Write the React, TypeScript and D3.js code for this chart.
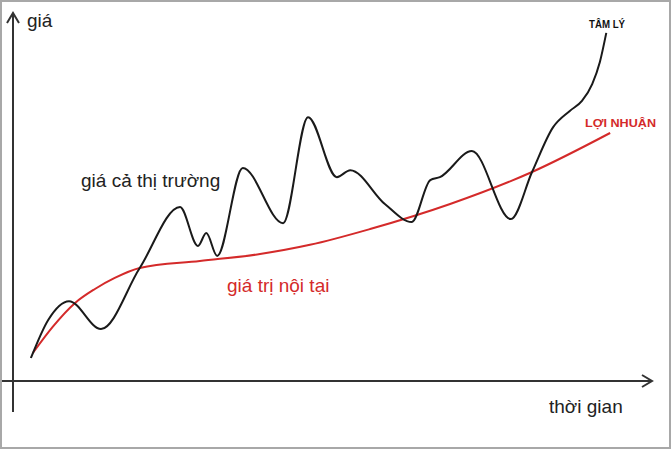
import React from "react";
import * as d3 from "d3";

// Abstract time (0-100) and price (0-100) values
const marketTime = [2.8, 5.5, 8.75, 13.75, 19.8, 26.1, 28.9, 30.2, 31.9, 35.9, 42.2, 46.1, 50.6, 52.7, 58.1, 62.3, 65.2, 66.7, 71.7, 77.8, 81.1, 84.4, 87.0, 88.9, 90.5, 91.7, 92.7];
const marketPrice = [6.25, 16.6, 21.7, 14.1, 30.7, 47.3, 36.7, 40.2, 34.0, 57.9, 42.9, 71.7, 55.4, 57.3, 48.1, 43.2, 54.6, 55.4, 62.5, 44.0, 56.8, 69.0, 73.4, 76.1, 80.7, 86.7, 94.6];

const valueTime = [3.1, 6.2, 9.7, 12.8, 15.9, 19.8, 29.2, 38.6, 46.4, 55.8, 68.3, 81.1, 93.3];
const valuePrice = [7.6, 14.7, 21.2, 25.0, 28.0, 30.7, 32.6, 34.5, 37.0, 41.3, 48.1, 56.8, 67.4];

const labels = {
  yAxis: "giá",
  xAxis: "thời gian",
  market: "giá cả thị trường",
  intrinsic: "giá trị nội tại",
  psych: "TÂM LÝ",
  profit: "LỢI NHUẬN",
};

const W = 672;
const H = 450;

export default function App() {
  const x = d3.scaleLinear().domain([0, 100]).range([13, 653]);
  const y = d3.scaleLinear().domain([0, 100]).range([381, 13]);

  const line = d3
    .line<[number, number]>()
    .x((d) => x(d[0]))
    .y((d) => y(d[1]))
    .curve(d3.curveMonotoneX);

  const market: [number, number][] = marketTime.map((t, i) => [t, marketPrice[i]]);
  const value: [number, number][] = valueTime.map((t, i) => [t, valuePrice[i]]);

  const axisColor = "#333";
  const font = "'Liberation Sans', Arial, sans-serif";
  const red = "#d42a2a";

  const x0 = x(0);
  const y0 = y(0);
  const xEnd = x(100) - 1;
  const yTop = y(100);

  return (
    <svg
      width={W}
      height={H}
      style={{ position: "fixed", left: 0, top: 0, background: "#fff" }}
      fontFamily={font}
    >
      <rect x={1} y={1} width={669} height={447} fill="#fff" stroke="#a8a8a8" strokeWidth={2} />
      {/* axes */}
      <line x1={2} y1={y0} x2={xEnd} y2={y0} stroke={axisColor} strokeWidth={2} />
      <line x1={x0} y1={412} x2={x0} y2={yTop} stroke={axisColor} strokeWidth={2} />
      <polyline
        points={`${xEnd - 10},${y0 - 6} ${xEnd},${y0} ${xEnd - 10},${y0 + 6}`}
        fill="none"
        stroke={axisColor}
        strokeWidth={2}
      />
      <polyline
        points={`${x0 - 6},${yTop + 10} ${x0},${yTop} ${x0 + 6},${yTop + 10}`}
        fill="none"
        stroke={axisColor}
        strokeWidth={2}
      />
      {/* curves */}
      <path d={line(value) || ""} fill="none" stroke={red} strokeWidth={2} />
      <path d={line(market) || ""} fill="none" stroke="#1a1a1a" strokeWidth={2} />
      {/* labels */}
      <text x={27} y={27} fontSize={19} fill="#222">{labels.yAxis}</text>
      <text x={549} y={413} fontSize={19} fill="#222">{labels.xAxis}</text>
      <text x={81} y={187} fontSize={19} fill="#222">{labels.market}</text>
      <text x={227} y={292} fontSize={19} fill={red}>{labels.intrinsic}</text>
      <text x={589} y={28} fontSize={10} fontWeight="bold" fill="#111" textLength={36} lengthAdjust="spacingAndGlyphs">{labels.psych}</text>
      <text x={585} y={127} fontSize={10.5} fontWeight="bold" fill={red} textLength={71} lengthAdjust="spacingAndGlyphs">{labels.profit}</text>
    </svg>
  );
}
